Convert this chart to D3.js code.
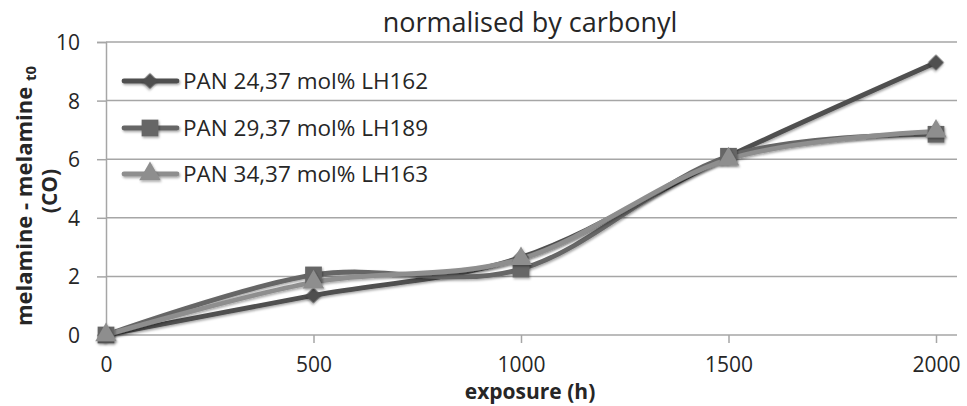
<!DOCTYPE html>
<html><head><meta charset="utf-8">
<script src="https://cdn.jsdelivr.net/npm/d3@7"></script>
<style>
body{margin:0;background:#fff;}
text{font-family:"Open Sans",sans-serif;fill:#262626;}
</style></head>
<body><svg id="c" width="967" height="406"></svg>
<script>
const exposure = [0, 500, 1000, 1500, 2000];
const lh162 = [0, 1.35, 2.65, 6.1, 9.3];
const lh189 = [0, 2.05, 2.25, 6.1, 6.85];
const lh163 = [0, 1.8, 2.6, 6.0, 6.95];
const seriesNames = ["PAN 24,37 mol% LH162", "PAN 29,37 mol% LH189", "PAN 34,37 mol% LH163"];
const yTicks = [0, 2, 4, 6, 8, 10];
const xTicks = [0, 500, 1000, 1500, 2000];

const series = [
  {name: seriesNames[0], values: lh162, color: "#4f4f4f", shape: d3.symbolSquare, size: 125, rot: 45},
  {name: seriesNames[1], values: lh189, color: "#666666", shape: d3.symbolSquare, size: 280, rot: 0},
  {name: seriesNames[2], values: lh163, color: "#8e8e8e", shape: d3.symbolTriangle, size: 200, rot: 0}
];

const svg = d3.select("#c");
const defs = svg.append("defs");
const f = defs.append("filter").attr("id","sh").attr("filterUnits","userSpaceOnUse")
  .attr("x",-200).attr("y",-600).attr("width",1400).attr("height",1200);
f.append("feDropShadow").attr("dx",1).attr("dy",1.5).attr("stdDeviation",0.8).attr("flood-color","#000").attr("flood-opacity",0.35);

const x = d3.scaleLinear().domain([0, 2000]).range([106, 936]);
const y = d3.scaleLinear().domain([0, 10]).range([335, 42]);
const plotRight = 957;

// gridlines
svg.append("g").selectAll("line").data(yTicks.filter(d => d > 0)).join("line")
  .attr("x1", x(0)).attr("x2", plotRight)
  .attr("y1", d => y(d)).attr("y2", d => y(d))
  .attr("stroke", "#a6a6a6").attr("stroke-width", 1.5);

// y axis
const yAxis = svg.append("g").attr("transform", `translate(${x(0)},0)`)
  .call(d3.axisLeft(y).tickValues(yTicks).tickSize(9).tickPadding(17).tickFormat(d3.format("d")));
yAxis.select(".domain").attr("stroke", "#a6a6a6").attr("stroke-width", 1.5);
yAxis.selectAll(".tick line").attr("stroke", "#a6a6a6").attr("stroke-width", 1.5);
yAxis.selectAll(".tick text").attr("font-size", 21).attr("font-family", "Open Sans").attr("fill", "#262626").attr("dy", "0.36em");

// x axis
const xAxis = svg.append("g").attr("transform", `translate(0,${y(0)})`)
  .call(d3.axisBottom(x).tickValues(xTicks).tickSize(8).tickPadding(14).tickFormat(d3.format("d")));
xAxis.select(".domain").attr("d", `M${x(0)},0H${plotRight}`).attr("stroke", "#a6a6a6").attr("stroke-width", 1.5);
xAxis.selectAll(".tick line").attr("stroke", "#a6a6a6").attr("stroke-width", 1.5);
xAxis.selectAll(".tick text").attr("font-size", 21).attr("font-family", "Open Sans").attr("fill", "#262626");

// lines
const line = d3.line().x((d, i) => x(exposure[i])).y(d => y(d)).curve(d3.curveCardinal.tension(0));
series.forEach(s => {
  svg.append("path").datum(s.values).attr("d", line)
    .attr("fill", "none").attr("stroke", s.color).attr("stroke-width", 4.8)
    .attr("stroke-linejoin", "round").attr("filter", "url(#sh)");
});
series.forEach(s => {
  svg.append("g").selectAll("path").data(s.values).join("path")
    .attr("d", d3.symbol().type(s.shape).size(s.size))
    .attr("transform", (d, i) => `translate(${x(exposure[i])},${y(d)}) rotate(${s.rot})`)
    .attr("fill", s.color).attr("filter", "url(#sh)");
});

// legend
const legY = [81, 128, 174];
series.forEach((s, i) => {
  const g = svg.append("g").attr("transform", `translate(0,${legY[i]})`);
  g.append("line").attr("x1", 124).attr("x2", 177).attr("y1", 0).attr("y2", 0)
    .attr("stroke", s.color).attr("stroke-width", 4.8).attr("stroke-linecap", "round").attr("filter", "url(#sh)");
  g.append("path").attr("d", d3.symbol().type(s.shape).size(s.size))
    .attr("transform", `translate(150,0) rotate(${s.rot})`).attr("fill", s.color).attr("filter", "url(#sh)");
  g.append("text").attr("x", 183).attr("y", 7.5).attr("font-size", 22.5).text(s.name);
});

// title
svg.append("text").attr("x", 530).attr("y", 32).attr("text-anchor", "middle")
  .attr("font-size", 27).text("normalised by carbonyl");

// x title
svg.append("text").attr("x", 530).attr("y", 399).attr("text-anchor", "middle")
  .attr("font-size", 21).attr("font-weight", "bold").text("exposure (h)");

// y title
const yt = svg.append("text").attr("transform", "translate(32,196) rotate(-90)")
  .attr("text-anchor", "middle").attr("font-size", 22).attr("font-weight", "bold");
yt.append("tspan").text("melamine - melamine ");
yt.append("tspan").attr("font-size", 15).attr("dy", 4).text("t0");
svg.append("text").attr("transform", "translate(57,191) rotate(-90)")
  .attr("text-anchor", "middle").attr("font-size", 21).attr("font-weight", "bold").text("(CO)");
</script></body></html>
